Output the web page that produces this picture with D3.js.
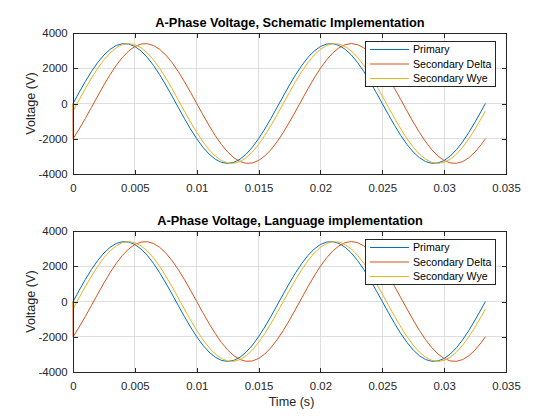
<!DOCTYPE html>
<html>
<head>
<meta charset="utf-8">
<script src="https://cdn.jsdelivr.net/npm/d3@7"></script>
<style>
html,body{margin:0;padding:0;background:#fff;}
svg{display:block;font-family:"Liberation Sans",Arial,Helvetica,sans-serif;}
</style>
</head>
<body>
<svg id="chart" width="560" height="420"></svg>
<script>
// ---- data ----
const timeMs = [0, 0.01, 0.5, 1, 1.5, 2, 2.5, 3, 3.5, 4, 4.5, 5, 5.5, 6, 6.5, 7, 7.5, 8, 8.5, 9, 9.5,
  10, 10.5, 11, 11.5, 12, 12.5, 13, 13.5, 14, 14.5, 15, 15.5, 16, 16.5, 17, 17.5, 18, 18.5, 19, 19.5,
  20, 20.5, 21, 21.5, 22, 22.5, 23, 23.5, 24, 24.5, 25, 25.5, 26, 26.5, 27, 27.5, 28, 28.5, 29, 29.5,
  30, 30.5, 31, 31.5, 32, 32.5, 33, 33.333];

const primary = [0, 0, 637, 1252, 1822, 2327, 2751, 3076, 3293, 3393,
  3373, 3234, 2979, 2620, 2167, 1638, 1051, 426,
  -213, -846, -1448, -1998, -2478, -2871, -3161, -3340, -3400,
  -3340, -3161, -2871, -2478, -1998, -1448, -846, -213,
  426, 1051, 1638, 2167, 2620, 2979, 3234, 3373,
  3393, 3293, 3076, 2751, 2327, 1822, 1252, 637,
  0, -637, -1252, -1822, -2327, -2751, -3076, -3293, -3393,
  -3373, -3234, -2979, -2620, -2167, -1638, -1051, -426, 0];

const secondaryDelta = [0, -1998, -1448, -846, -213,
  426, 1051, 1638, 2167, 2620, 2979, 3234, 3373,
  3393, 3293, 3076, 2751, 2327, 1822, 1252, 637,
  0, -637, -1252, -1822, -2327, -2751, -3076, -3293, -3393,
  -3373, -3234, -2979, -2620, -2167, -1638, -1051, -426,
  213, 846, 1448, 1998, 2478, 2871, 3161, 3340, 3400,
  3340, 3161, 2871, 2478, 1998, 1448, 846, 213,
  -426, -1051, -1638, -2167, -2620, -2979, -3234, -3373,
  -3393, -3293, -3076, -2751, -2327, -1998];

const secondaryWye = [0, -426,
  213, 846, 1448, 1998, 2478, 2871, 3161, 3340, 3400,
  3340, 3161, 2871, 2478, 1998, 1448, 846, 213,
  -426, -1051, -1638, -2167, -2620, -2979, -3234, -3373,
  -3393, -3293, -3076, -2751, -2327, -1822, -1252, -637,
  0, 637, 1252, 1822, 2327, 2751, 3076, 3293, 3393,
  3373, 3234, 2979, 2620, 2167, 1638, 1051, 426,
  -213, -846, -1448, -1998, -2478, -2871, -3161, -3340, -3400,
  -3340, -3161, -2871, -2478, -1998, -1448, -846, -426];

const seriesNames = ["Primary", "Secondary Delta", "Secondary Wye"];
const seriesColors = ["#0072BD", "#D95319", "#EDB120"];
const panelTitles = ["A-Phase Voltage, Schematic Implementation", "A-Phase Voltage, Language implementation"];
const xTicks = [0, 0.005, 0.01, 0.015, 0.02, 0.025, 0.03, 0.035];
const xTickLabels = ["0", "0.005", "0.01", "0.015", "0.02", "0.025", "0.03", "0.035"];
const yTicks = [-4000, -2000, 0, 2000, 4000];
const yTickLabels = ["-4000", "-2000", "0", "2000", "4000"];
const xLabel = "Time (s)";
const yLabel = "Voltage (V)";

// ---- drawing ----
const svg = d3.select("#chart");
const left = 73, right = 506;
const panels = [{top: 33, bottom: 174, title: panelTitles[0], showX: false},
                {top: 231, bottom: 372, title: panelTitles[1], showX: true}];
const seriesValues = [primary, secondaryDelta, secondaryWye];
const axisColor = "#262626";
const tickFont = 11.4;

const x = d3.scaleLinear().domain([0, 0.035]).range([left, right]);

panels.forEach(p => {
  const y = d3.scaleLinear().domain([-4000, 4000]).range([p.bottom, p.top]);
  const g = svg.append("g");

  // grid
  g.append("g").selectAll("line").data(xTicks.slice(1, -1)).join("line")
    .attr("x1", d => x(d)).attr("x2", d => x(d)).attr("y1", p.top).attr("y2", p.bottom)
    .attr("stroke", "#dedede").attr("stroke-width", 1).attr("shape-rendering", "crispEdges");
  g.append("g").selectAll("line").data(yTicks.slice(1, -1)).join("line")
    .attr("x1", left).attr("x2", right).attr("y1", d => y(d)).attr("y2", d => y(d))
    .attr("stroke", "#dedede").attr("stroke-width", 1).attr("shape-rendering", "crispEdges");

  // series lines
  seriesValues.forEach((vals, si) => {
    const line = d3.line()
      .x((d, i) => x(timeMs[i] / 1000))
      .y(d => y(d))
      .curve(d3.curveLinear);
    g.append("path").datum(vals)
      .attr("d", line)
      .attr("fill", "none")
      .attr("stroke", seriesColors[si])
      .attr("stroke-width", 1);
  });

  // axes
  const xb = d3.axisBottom(x).tickValues(xTicks).tickFormat((d, i) => xTickLabels[i])
    .tickSizeInner(-4.5).tickSizeOuter(0).tickPadding(9.6);
  const xt = d3.axisTop(x).tickValues(xTicks).tickFormat("").tickSizeInner(-4.5).tickSizeOuter(0);
  const yl = d3.axisLeft(y).tickValues(yTicks).tickFormat((d, i) => yTickLabels[i])
    .tickSizeInner(-4.5).tickSizeOuter(0).tickPadding(5.3);
  const yr = d3.axisRight(y).tickValues(yTicks).tickFormat("").tickSizeInner(-4.5).tickSizeOuter(0);

  const axes = [
    g.append("g").attr("transform", `translate(0,${p.bottom})`).call(xb),
    g.append("g").attr("transform", `translate(0,${p.top})`).call(xt),
    g.append("g").attr("transform", `translate(${left},0)`).call(yl),
    g.append("g").attr("transform", `translate(${right},0)`).call(yr)
  ];
  axes.forEach(a => {
    a.select(".domain").remove();
    a.selectAll("line").attr("stroke", axisColor).attr("shape-rendering", "crispEdges");
    a.selectAll("text").attr("fill", axisColor).attr("font-size", tickFont)
      .attr("font-family", "Liberation Sans, Arial, sans-serif");
  });

  // box
  g.append("rect").attr("x", left).attr("y", p.top)
    .attr("width", right - left).attr("height", p.bottom - p.top)
    .attr("fill", "none").attr("stroke", axisColor).attr("stroke-width", 1)
    .attr("shape-rendering", "crispEdges");

  // title
  g.append("text").attr("x", (left + right) / 2 + 0.5).attr("y", p.top - 6)
    .attr("text-anchor", "middle").attr("font-weight", "bold").attr("font-size", 12.8)
    .attr("fill", "#000").text(p.title);

  // y label
  g.append("text").attr("transform", `translate(34.5,${(p.top + p.bottom) / 2}) rotate(-90)`)
    .attr("text-anchor", "middle").attr("font-size", 12.6).attr("fill", axisColor).text(yLabel);

  if (p.showX) {
    g.append("text").attr("x", (left + right) / 2 + 2).attr("y", p.bottom + 34)
      .attr("text-anchor", "middle").attr("font-size", 12.6).attr("fill", axisColor).text(xLabel);
  }

  // legend
  const lgX = right - 141, lgY = p.top + 8, lgW = 130, lgH = 45;
  const lg = g.append("g");
  lg.append("rect").attr("x", lgX).attr("y", lgY).attr("width", lgW).attr("height", lgH)
    .attr("fill", "#fff").attr("stroke", axisColor).attr("stroke-width", 1)
    .attr("shape-rendering", "crispEdges");
  const rows = lg.selectAll("g.row").data(seriesNames).join("g").attr("class", "row")
    .attr("transform", (d, i) => `translate(${lgX},${lgY + 8.5 + i * 14.5})`);
  rows.append("line").attr("x1", 5).attr("x2", 44).attr("y1", 0).attr("y2", 0)
    .attr("stroke", (d, i) => seriesColors[i]).attr("stroke-width", 1);
  rows.append("text").attr("x", 48).attr("y", 0).attr("dy", "0.35em")
    .attr("font-size", 10.6).attr("fill", "#000").text(d => d);
});
</script>
</body>
</html>
